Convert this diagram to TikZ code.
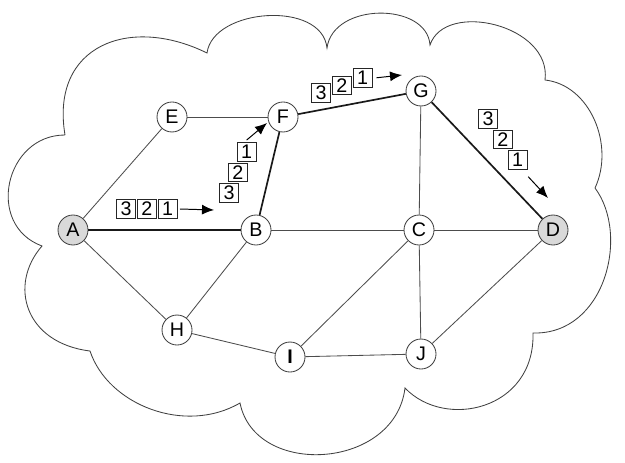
\documentclass[tikz,border=0pt]{standalone}
\usepackage{fontspec}
\setmainfont{Liberation Sans}
\usetikzlibrary{arrows.meta,positioning}

\begin{document}
\begin{tikzpicture}[x=0.25mm, y=-0.25mm, >=Latex, node distance=0.3mm,
  every node/.style={font=\fontsize{14}{16}\selectfont},
  router/.style={draw=black!75, circle, fill=white, minimum size=7.5mm, inner sep=0pt, line width=0.6pt},
  host/.style={router, fill=black!15},
  link/.style={draw=black!70, line width=0.6pt},
  route/.style={draw=black!90, line width=1.2pt},
  pkt/.style={draw=black!85, fill=white, minimum width=4.7mm, minimum height=4.6mm, inner sep=0pt, line width=0.6pt},
  flow/.style={-{Latex[length=3mm,width=2.5mm]}, line width=0.7pt}]
\useasboundingbox (0,0) rectangle (625,463);
\draw[draw=black!75, line width=0.6pt] (65,135) .. controls (50,45) and (130,15) .. (207,53)
  .. controls (213,8) and (322,0) .. (327,48)
  .. controls (333,2) and (427,2) .. (430,45)
  .. controls (445,0) and (552,25) .. (545,80)
  .. controls (590,85) and (615,145) .. (595,188)
  .. controls (630,235) and (605,335) .. (533,333)
  .. controls (535,410) and (445,430) .. (405,388)
  .. controls (395,470) and (255,478) .. (240,403)
  .. controls (185,435) and (108,405) .. (90,351)
  .. controls (25,343) and (8,285) .. (42,246)
  .. controls (-15,225) and (5,135) .. (65,135);
\node (A) [host] at (73,230) {A};
\node (B) [router] at (256,230) {B};
\node (C) [router] at (419,230) {C};
\node (D) [host] at (553,230) {D};
\node (E) [router] at (172,117) {E};
\node (F) [router] at (283,117) {F};
\node (G) [router] at (421,91) {G};
\node (H) [router] at (177,330) {H};
\node (I) [router] at (290,357) {\textbf{I}};
\node (J) [router] at (421,354) {J};
\draw[link] (A) -- (E);
\draw[link] (A) -- (H);
\draw[link] (E) -- (F);
\draw[link] (G) -- (C);
\draw[link] (B) -- (C);
\draw[link] (C) -- (D);
\draw[link] (B) -- (H);
\draw[link] (H) -- (I);
\draw[link] (I) -- (C);
\draw[link] (I) -- (J);
\draw[link] (C) -- (J);
\draw[link] (J) -- (D);
\draw[route] (A) -- (B);
\draw[route] (B) -- (F);
\draw[route] (F) -- (G);
\draw[route] (G) -- (D);
\node (ab3) [pkt] at (126,209) {3};
\node (ab2) [pkt, right=of ab3] {2};
\node (ab1) [pkt, right=of ab2] {1};
\coordinate (abtip) at (214,210);
\draw[flow] ([xshift=0.6mm]ab1.east) -- (abtip);
\node (bf3) [pkt] at (229,193) {3};
\node (bf2) [pkt, above=of bf3, xshift=2.2mm] {2};
\node (bf1) [pkt, above=of bf2, xshift=2.2mm] {1};
\coordinate (bftip) at (267,123);
\draw[flow] ([yshift=0.6mm]bf1.north) -- (bftip);
\node (fg3) [pkt] at (321,93) {3};
\node (fg2) [pkt, right=of fg3, yshift=1.9mm] {2};
\node (fg1) [pkt, right=of fg2, yshift=1.9mm] {1};
\coordinate (fgtip) at (402,75);
\draw[flow] ([xshift=1mm]fg1.east) -- (fgtip);
\node (gd3) [pkt] at (488,119) {3};
\node (gd2) [pkt, below=of gd3, xshift=3.7mm] {2};
\node (gd1) [pkt, below=of gd2, xshift=3.7mm] {1};
\coordinate (gdtip) at (548,198);
\draw[flow] ([shift={(0.2mm,-1.8mm)}]gd1.south east) -- (gdtip);
\end{tikzpicture}
\end{document}
